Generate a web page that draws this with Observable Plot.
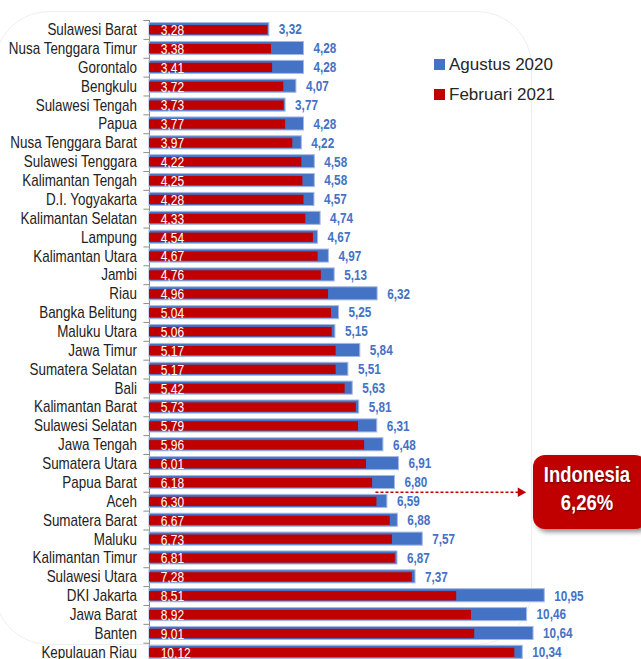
<!DOCTYPE html>
<html>
<head>
<meta charset="utf-8">
<script src="https://cdn.jsdelivr.net/npm/d3@7"></script>
<script src="https://cdn.jsdelivr.net/npm/@observablehq/plot@0.6"></script>
<style>
  html, body { margin: 0; padding: 0; background: #fff; overflow: hidden; }
  #wrap { position: relative; width: 641px; height: 659px; overflow: hidden; }
  #frame { position: absolute; left: -6px; top: 11px; width: 536px; height: 632px;
           border: 1px solid #efefef; border-radius: 55px; }
  #chart { position: absolute; left: 0; top: 0; }
  .leg { position: absolute; left: 434px; font-family: "Liberation Sans", Arial, sans-serif;
         font-size: 17px; color: #262626; line-height: 1; white-space: nowrap; }
  .leg span { display: inline-block; width: 11px; height: 11px; margin-right: 4px; vertical-align: 0px; }
  #indo { position: absolute; left: 533px; top: 455px; width: 114px; height: 74px;
          background: #C00000; border-radius: 12px; box-shadow: 3px 3px 5px rgba(0,0,0,0.45);
          color: #fff; font-family: "Liberation Sans", Arial, sans-serif;
          font-weight: bold; font-size: 22px; text-align: center; line-height: 28px; padding-top: 6px;
          box-sizing: border-box; text-shadow: 1px 1px 2px rgba(0,0,0,0.5); }
  #indo div { width: 114px; margin-left: -3px; transform: scaleX(0.84); }
</style>
</head>
<body>
<div id="wrap">
  <div id="frame"></div>
  <div id="chart"></div>
  <div class="leg" style="top:56px"><span style="background:#4472C4"></span>Agustus 2020</div>
  <div class="leg" style="top:86px"><span style="background:#C00000"></span>Februari 2021</div>
  <div id="indo"><div id="indoName"></div><div id="indoVal"></div></div>
</div>
<script>
const regions = ["Sulawesi Barat","Nusa Tenggara Timur","Gorontalo","Bengkulu","Sulawesi Tengah","Papua",
  "Nusa Tenggara Barat","Sulawesi Tenggara","Kalimantan Tengah","D.I. Yogyakarta","Kalimantan Selatan",
  "Lampung","Kalimantan Utara","Jambi","Riau","Bangka Belitung","Maluku Utara","Jawa Timur",
  "Sumatera Selatan","Bali","Kalimantan Barat","Sulawesi Selatan","Jawa Tengah","Sumatera Utara",
  "Papua Barat","Aceh","Sumatera Barat","Maluku","Kalimantan Timur","Sulawesi Utara","DKI Jakarta",
  "Jawa Barat","Banten","Kepulauan Riau"];
const agustus2020 = [3.32,4.28,4.28,4.07,3.77,4.28,4.22,4.58,4.58,4.57,4.74,4.67,4.97,5.13,6.32,5.25,5.15,
  5.84,5.51,5.63,5.81,6.31,6.48,6.91,6.80,6.59,6.88,7.57,6.87,7.37,10.95,10.46,10.64,10.34];
const februari2021 = [3.28,3.38,3.41,3.72,3.73,3.77,3.97,4.22,4.25,4.28,4.33,4.54,4.67,4.76,4.96,5.04,5.06,
  5.17,5.17,5.42,5.73,5.79,5.96,6.01,6.18,6.30,6.67,6.73,6.81,7.28,8.51,8.92,9.01,10.12];
const indonesiaLabel = "Indonesia";
const indonesiaValue = 6.26;

const rows = regions.map((r, i) => ({region: r, aug: agustus2020[i], feb: februari2021[i]}));
const fmt = v => d3.format(".2f")(v).replace(".", ",");
document.getElementById("indoName").textContent = indonesiaLabel;
document.getElementById("indoVal").textContent = fmt(indonesiaValue) + "%";

const BLUE = "#4472C4", RED = "#C00000";
const step = 18.87;
const arrowEnd = 10.28;

const chart = Plot.plot({
  width: 641,
  height: 20 + step * regions.length,
  marginLeft: 149,
  marginRight: 0,
  marginTop: 20,
  marginBottom: 0,
  style: {fontFamily: "'Liberation Sans', Arial, sans-serif", background: "transparent", overflow: "visible"},
  x: {domain: [0, 13.63], axis: null},
  y: {domain: regions, padding: 0, round: false, axis: null},
  marks: [
    Plot.ruleX([0], {stroke: "#8c8c8c", strokeWidth: 1}),
    Plot.ruleY(regions, {y: d => d, x1: -0.155, x2: 0, dy: -step / 2, stroke: "#8c8c8c"}),
    Plot.barX(rows, {y: "region", x: "aug", fill: BLUE, stroke: "#a4b9e4", strokeWidth: 1,
      insetTop: 2.6, insetBottom: 3.2}),
    Plot.barX(rows, {y: "region", x: "feb", fill: RED, insetTop: 5, insetBottom: 4.6}),
    Plot.text(rows, {y: "region", x: 0, text: d => fmt(d.feb), dx: 11.2, dy: 0.5, textAnchor: "start",
      fill: "#fff", fontSize: 14.3}),
    Plot.text(rows, {y: "region", x: "aug", text: d => fmt(d.aug), dx: 9.5, dy: 0, textAnchor: "start",
      fill: BLUE, fontWeight: "bold", fontSize: 14}),
    Plot.axisY({tickSize: 0, tickPadding: 12.5, fontSize: 16, fill: "#222", label: null}),
    Plot.link([indonesiaValue], {x1: d => d, x2: arrowEnd, y1: () => "Aceh", y2: () => "Aceh",
      dy: -step / 2, stroke: RED, strokeWidth: 1.3, strokeDasharray: "3,2"}),
    Plot.dot([indonesiaValue], {x: () => arrowEnd, y: () => "Aceh", dy: -step / 2, symbol: "triangle",
      rotate: 90, r: 3.6, fill: RED, stroke: "none"})
  ]
});
// condense all chart texts horizontally (Arial Narrow look)
chart.querySelectorAll("text").forEach(t => {
  const tr = t.getAttribute("transform") || "";
  t.setAttribute("transform", (tr + " scale(0.84,1)").trim());
});
document.getElementById("chart").appendChild(chart);
</script>
</body>
</html>
